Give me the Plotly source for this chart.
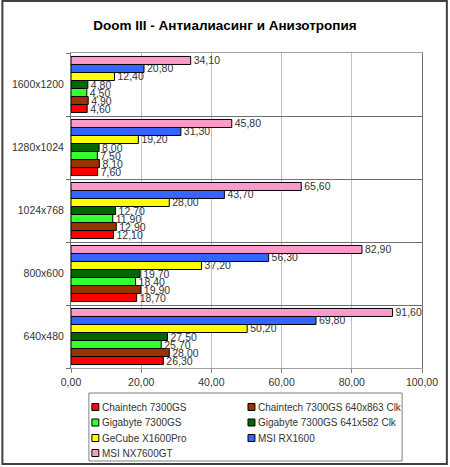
import plotly.graph_objects as go

categories = ["640x480", "800x600", "1024x768", "1280x1024", "1600x1200"]

series_names = [
    "Chaintech 7300GS",
    "Chaintech 7300GS 640x863 Clk",
    "Gigabyte 7300GS",
    "Gigabyte 7300GS 641x582 Clk",
    "GeCube X1600Pro",
    "MSI RX1600",
    "MSI NX7600GT",
]

chaintech = [26.3, 18.7, 12.1, 7.6, 4.6]
chaintech_clk = [28.0, 19.9, 12.9, 8.1, 4.9]
gigabyte = [25.7, 18.4, 11.9, 7.5, 4.5]
gigabyte_clk = [27.5, 19.7, 12.7, 8.0, 4.8]
gecube = [50.2, 37.2, 28.0, 19.2, 12.4]
msi_rx = [69.8, 56.3, 43.7, 31.3, 20.8]
msi_nx = [91.6, 82.9, 65.6, 45.8, 34.1]

series_values = [chaintech, chaintech_clk, gigabyte, gigabyte_clk, gecube, msi_rx, msi_nx]
colors = ["#FF0000", "#993300", "#33FF33", "#006600", "#FFFF00", "#3366FF", "#FF99CC"]

x_ticks = [0, 20, 40, 60, 80, 100]

FONT = "Liberation Sans, Arial"
W, H = 450, 467
L, R, T, B = 70, 27, 53, 99
pw, ph = W - L - R, H - T - B


def px_x(p):
    return (p - L) / pw


def px_y(p):
    return (H - B - p) / ph


fig = go.Figure()
for name, vals, col in zip(series_names, series_values, colors):
    fig.add_trace(go.Bar(
        y=categories, x=vals, name=name, orientation="h",
        marker=dict(color=col, line=dict(color="#000000", width=1)),
        text=[f"{v:.2f}".replace(".", ",") for v in vals],
        textposition="outside",
        textfont=dict(family=FONT, size=10.5, color="#333333"),
        constraintext="none",
        cliponaxis=False,
        showlegend=False,
    ))

# manual legend (2 columns, row-major), built from names/colors
shapes = []
annotations = []
col_x = [91, 248]
row_y = [407, 422.5, 438, 453]
for i, (name, col) in enumerate(zip(series_names, colors)):
    c, r = i % 2, i // 2
    sx, sy = col_x[c], row_y[r]
    shapes.append(dict(type="rect", xref="paper", yref="paper",
                       x0=px_x(sx), x1=px_x(sx + 7), y0=px_y(sy + 3.5), y1=px_y(sy - 3.5),
                       line=dict(color="#000000", width=1), fillcolor=col))
    annotations.append(dict(xref="paper", yref="paper", x=px_x(sx + 8), y=px_y(sy),
                            xanchor="left", yanchor="middle", showarrow=False,
                            text=name, font=dict(family=FONT, size=10, color="#333333")))

# legend box
shapes.append(dict(type="rect", xref="paper", yref="paper",
                   x0=px_x(88), x1=px_x(403), y0=px_y(461), y1=px_y(393),
                   line=dict(color="#808080", width=1), fillcolor="rgba(0,0,0,0)"))
# outer frame
shapes.append(dict(type="rect", xref="paper", yref="paper",
                   x0=px_x(1), x1=px_x(448), y0=px_y(464), y1=px_y(1),
                   line=dict(color="#404040", width=2), fillcolor="rgba(0,0,0,0)", layer="below"))

fig.update_layout(
    width=W, height=H,
    margin=dict(l=L, r=R, t=T, b=B),
    paper_bgcolor="white", plot_bgcolor="white",
    separators=", ",
    barmode="group", bargap=0.11, bargroupgap=0,
    font=dict(family=FONT, size=10, color="#333333"),
    title=dict(text="<b>Doom III - Антиалиасинг и Анизотропия</b>",
               x=0.5, xanchor="center", xref="container",
               y=1 - 25 / H, yanchor="middle", yref="container",
               font=dict(family=FONT, size=13.5, color="#000000")),
    showlegend=False,
    shapes=shapes,
    annotations=annotations,
)

fig.update_xaxes(range=[0, 100], tickvals=x_ticks, tickformat=".2f",
                 showgrid=True, gridcolor="#C0C0C0", gridwidth=1,
                 showline=True, linecolor="#A0A0A0", mirror=True,
                 ticks="outside", ticklen=4, tickcolor="#808080",
                 tickfont=dict(family=FONT, size=10.5, color="#333333"),
                 zeroline=False, fixedrange=True)
fig.update_yaxes(categoryorder="array", categoryarray=categories,
                 tickson="boundaries", showgrid=True, gridcolor="#707070", gridwidth=1,
                 showline=True, linecolor="#707070", mirror=True,
                 ticks="outside", ticklen=4, tickcolor="#707070",
                 tickfont=dict(family=FONT, size=10.5, color="#333333"),
                 ticklabelstandoff=4,
                 fixedrange=True)

fig.write_html("out.html")
